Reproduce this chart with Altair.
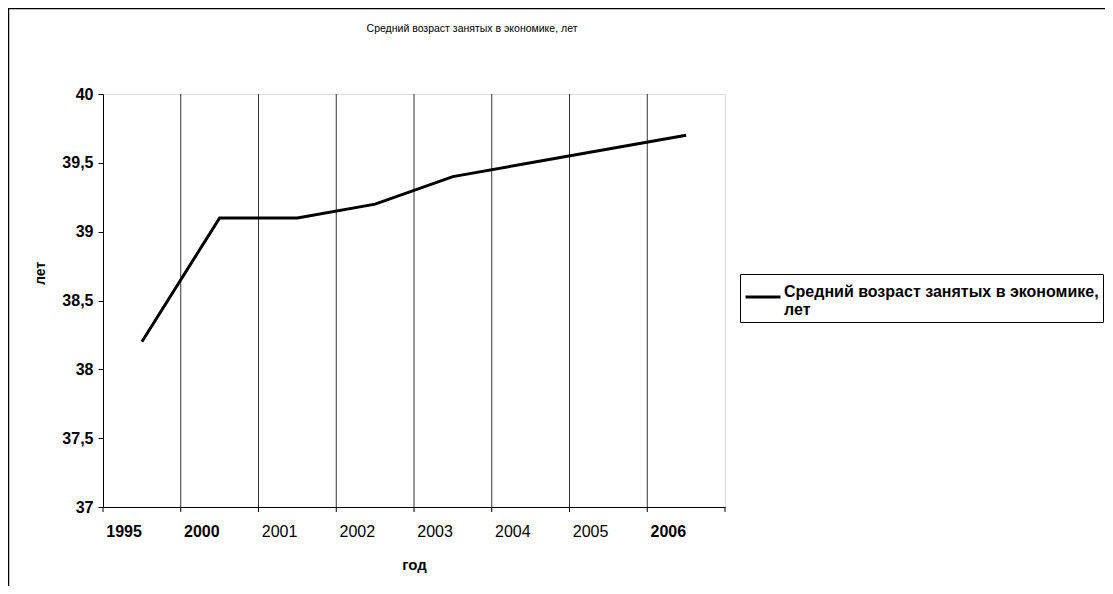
import altair as alt
import pandas as pd

years = ["1995", "2000", "2001", "2002", "2003", "2004", "2005", "2006"]
values = [38.2, 39.1, 39.1, 39.2, 39.4, 39.5, 39.6, 39.7]
series_name = "Средний возраст занятых в экономике, лет"
chart_title = "Средний возраст занятых в экономике, лет"
x_title = "год"
y_title = "лет"
y_ticks = [37, 37.5, 38, 38.5, 39, 39.5, 40]

df = pd.DataFrame({"year": years, "value": values, "series": [series_name] * len(years)})

W, H = 622, 413
FONT = "Liberation Sans"

xscale = alt.Scale(domain=years, paddingInner=0, paddingOuter=0)
yscale = alt.Scale(domain=[37, 40], nice=False, zero=False)

base = alt.Chart(df)

line = base.mark_line(strokeWidth=3, color="black").encode(
    x=alt.X("year:N", scale=xscale, sort=years,
            axis=alt.Axis(title=x_title, labelAngle=0, ticks=False, grid=False,
                          domainColor="black", labelFontSize=16, labelColor="black",
                          labelFont=FONT, labelPadding=16, labelBaseline="top",
                          labelFontWeight={"condition": {"test": "indexof(['1995','2000','2006'], datum.label) >= 0", "value": "bold"}, "value": "normal"},
                          titleFont=FONT, titleFontSize=15, titleFontWeight="bold",
                          titleY=57, titleBaseline="middle", titleColor="black")),
    y=alt.Y("value:Q", scale=yscale,
            axis=alt.Axis(title=y_title, values=y_ticks, format=".1~f",
                          labelExpr="replace(datum.label, '.', ',')",
                          grid=False, tickSize=5, tickColor="black", domainColor="black",
                          labelFont=FONT, labelFontSize=16, labelFontWeight="bold",
                          labelColor="black", labelPadding=5,
                          titleFont=FONT, titleFontSize=14, titleFontWeight="bold",
                          titleColor="black", titleX=-63, titleY=179,
                          titleAngle=270, titleBaseline="middle", titleAlign="center")),
    color=alt.Color("series:N", scale=alt.Scale(range=["black"]),
                    legend=alt.Legend(title=None, orient="none", legendX=637, legendY=180,
                                      strokeColor="black", padding=4,
                                      symbolType="stroke", symbolSize=1225,
                                      symbolStrokeWidth=3, symbolStrokeColor="black",
                                      labelFont=FONT, labelFontSize=16, labelFontWeight="bold",
                                      labelColor="black", labelLimit=0, labelOffset=2,
                                      labelBaseline="alphabetic",
                                      labelExpr="[substring(datum.label, 0, indexof(datum.label, ',') + 1), substring(datum.label, indexof(datum.label, ',') + 2)]")),
)

grid = base.transform_filter(alt.datum.year != years[0]).mark_rule(
    color="#333333", strokeWidth=1).encode(
    x=alt.X("year:N", scale=xscale, sort=years, bandPosition=0),
    y=alt.value(0), y2=alt.value(H),
)

ticks = base.mark_rule(color="black", strokeWidth=1).encode(
    x=alt.X("year:N", scale=xscale, sort=years, bandPosition=0),
    y=alt.value(H), y2=alt.value(H + 5),
)

last_tick = base.transform_filter(alt.datum.year == years[-1]).mark_rule(
    color="black", strokeWidth=1).encode(
    x=alt.X("year:N", scale=xscale, sort=years, bandPosition=1),
    y=alt.value(H), y2=alt.value(H + 5),
)

frame = alt.Chart(pd.DataFrame({"k": [0]})).mark_rect(
    filled=False, stroke="black", strokeWidth=1.5).encode(
    x=alt.value(-94.5), x2=alt.value(1100), y=alt.value(-85.5), y2=alt.value(700),
)

chart = alt.layer(frame, grid, ticks, last_tick, line).properties(
    width=W, height=H,
    title=alt.TitleParams(chart_title, font=FONT, fontSize=10.5, fontWeight="normal",
                          color="black", anchor="middle", dx=58, offset=-27, frame="group"),
    autosize=alt.AutoSizeParams(type="none"),
    padding={"left": 95, "top": 86, "right": 380, "bottom": 79},
).configure_view(stroke="#404040", strokeWidth=1).configure(background="white")

chart.save("out.html", embed_options={"renderer": "svg", "actions": False})
